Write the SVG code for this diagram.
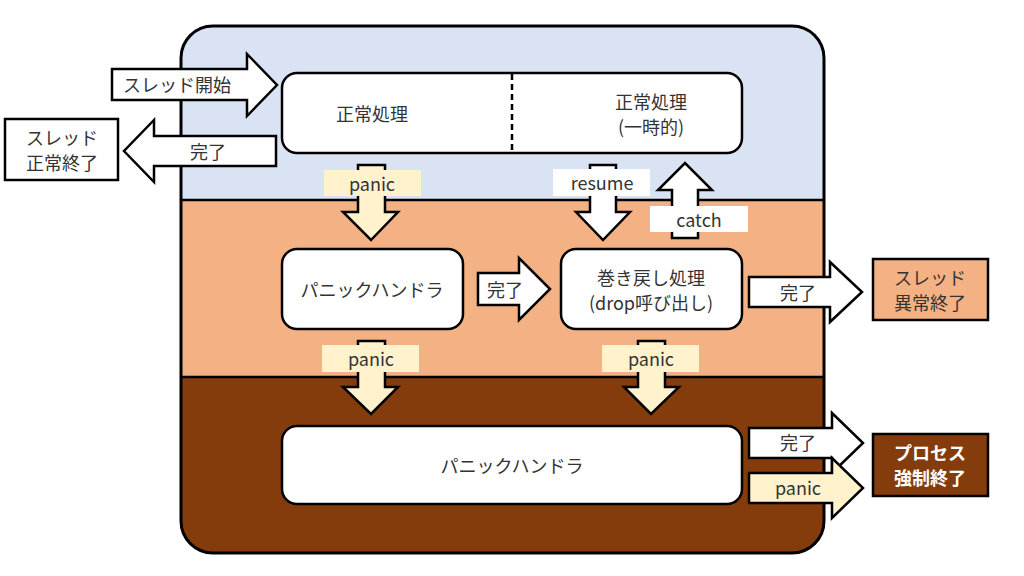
<svg xmlns="http://www.w3.org/2000/svg" width="1024" height="576" viewBox="0 0 1024 576">
<defs>
<style>
text{font-family:"Noto Sans CJK JP","Noto Sans",sans-serif;font-size:18px;fill:#333;text-anchor:middle;dominant-baseline:central}
.node{fill:#fff;stroke:#000;stroke-width:2.5}
.arw{fill:#fff;stroke:#000;stroke-width:2.5;stroke-linejoin:miter}
.parw{fill:#FFF2CC;stroke:#000;stroke-width:2.5;stroke-linejoin:miter}
.plab{fill:#FFF2CC}
.wlab{fill:#fff}
.box{stroke:#000;stroke-width:2.5}
.wt{fill:#fff;font-weight:bold}
</style>
<clipPath id="cc"><rect x="181" y="26" width="643" height="527" rx="32"/></clipPath>
</defs>
<rect width="1024" height="576" fill="#fff"/>
<g id="container">
<g clip-path="url(#cc)">
<rect x="181" y="26" width="643" height="174" fill="#DAE3F3"/>
<rect x="181" y="200" width="643" height="177" fill="#F4B183"/>
<rect x="181" y="377" width="643" height="176" fill="#843C0C"/>
</g>
<line x1="181" y1="200" x2="824" y2="200" stroke="#000" stroke-width="2.5"/>
<line x1="181" y1="377" x2="824" y2="377" stroke="#000" stroke-width="2.5"/>
<rect x="181" y="26" width="643" height="527" rx="32" fill="none" stroke="#000" stroke-width="3"/>
</g>
<g id="node-normal">
<rect class="node" x="282" y="73" width="460" height="80" rx="15"/>
<line x1="512" y1="74" x2="512" y2="152" stroke="#000" stroke-width="2.5" stroke-dasharray="6,4"/>
<text x="372" y="113">正常処理</text>
<text x="651" y="101">正常処理</text>
<text x="651" y="126">(一時的)</text>
</g>
<g id="node-handler1">
<rect class="node" x="282" y="249" width="181" height="80" rx="15"/>
<text x="372" y="289">パニックハンドラ</text>
</g>
<g id="node-unwind">
<rect class="node" x="561" y="249" width="181" height="80" rx="15"/>
<text x="651" y="277">巻き戻し処理</text>
<text x="651" y="302">(drop呼び出し)</text>
</g>
<g id="node-handler2">
<rect class="node" x="282" y="426" width="460" height="78" rx="15"/>
<text x="512" y="465">パニックハンドラ</text>
</g>
<g id="node-thread-ok">
<rect class="box" x="5" y="119" width="113" height="61" fill="#fff"/>
<text x="62" y="137">スレッド</text>
<text x="62" y="162">正常終了</text>
</g>
<g id="node-thread-err">
<rect class="box" x="873" y="259" width="115" height="61" fill="#F4B183"/>
<text x="930" y="277">スレッド</text>
<text x="930" y="302">異常終了</text>
</g>
<g id="node-process-kill">
<rect class="box" x="873" y="434" width="115" height="62" fill="#843C0C"/>
<text class="wt" x="930" y="452">プロセス</text>
<text class="wt" x="930" y="477">強制終了</text>
</g>
<g id="connectors">
<polygon class="arw" points="112,69 247,69 247,54 277,85 247,116 247,100 112,100"/>
<text x="177" y="84">スレッド開始</text>
<polygon class="arw" points="276,136 154,136 154,120 124,151 154,182 154,166 276,166"/>
<text x="208" y="151">完了</text>
<polygon class="arw" points="478,273 519,273 519,258 550,289 519,320 519,305 478,305"/>
<text x="505" y="289">完了</text>
<polygon class="arw" points="749,277 830,277 830,262 862,292 830,322 830,307 749,307"/>
<text x="798" y="292">完了</text>
<polygon class="arw" points="749,428 832,428 832,413 863,443 832,473 832,458 749,458"/>
<text x="798" y="442">完了</text>
<polygon class="parw" points="749,473 832,473 832,458 863,488 832,518 832,503 749,503"/>
<text x="798" y="487">panic</text>
<polygon class="parw" points="358,165 385,165 385,212 398,212 371,240 343,212 358,212"/>
<rect class="plab" x="324" y="170" width="97" height="26"/>
<text x="372" y="183">panic</text>
<polygon class="parw" points="358,341 385,341 385,387 398,387 371,414 343,387 358,387"/>
<rect class="plab" x="322" y="345" width="97" height="27"/>
<text x="371" y="358">panic</text>
<polygon class="parw" points="638,341 665,341 665,387 679,387 651,414 624,387 638,387"/>
<rect class="plab" x="602" y="345" width="97" height="27"/>
<text x="651" y="358">panic</text>
<polygon class="arw" points="590,165 616,165 616,212 630,212 603,240 576,212 590,212"/>
<rect class="wlab" x="553" y="169" width="97" height="27"/>
<text x="602" y="182">resume</text>
<polygon class="arw" points="672,238 698,238 698,190 712,190 685,163 658,190 672,190"/>
<rect class="wlab" x="650" y="206" width="98" height="26"/>
<text x="699" y="219">catch</text>
</g>
</svg>
